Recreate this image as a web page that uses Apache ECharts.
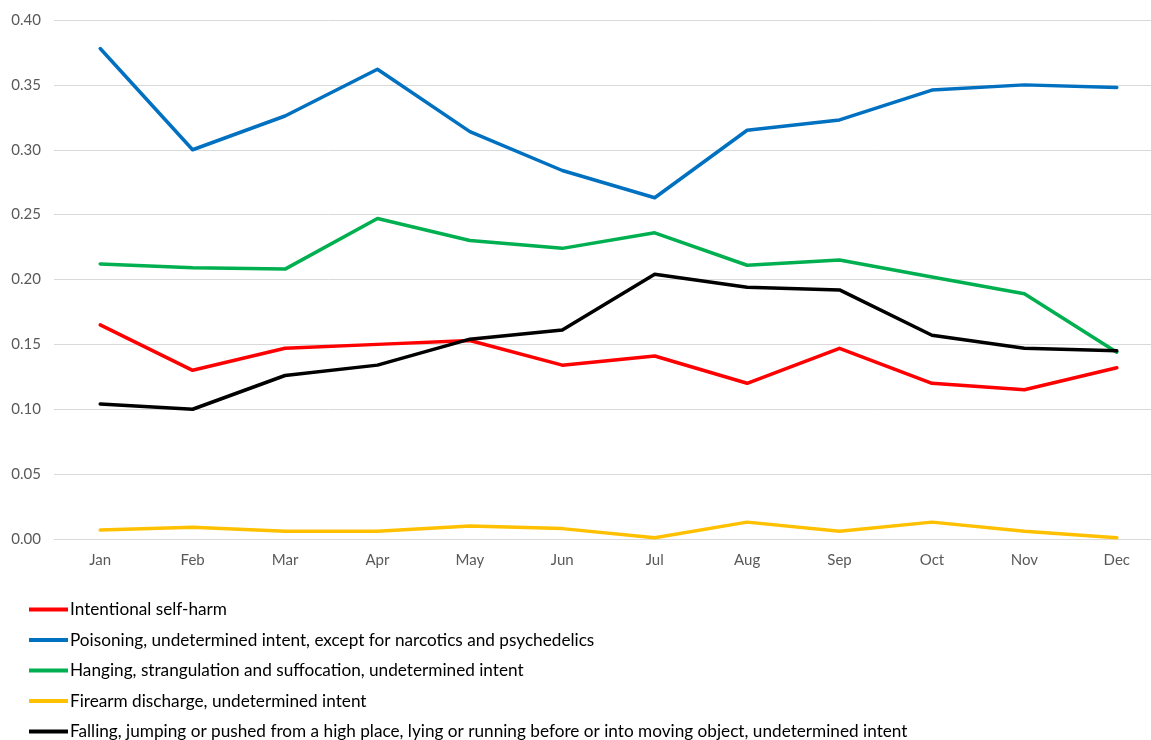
<!DOCTYPE html>
<html><head><meta charset="utf-8">
<script src="https://cdn.jsdelivr.net/npm/echarts@6/dist/echarts.min.js"></script>
<style>html,body{margin:0;padding:0;background:#fff}#c{width:1151px;height:740px}</style>
</head><body><div id="c"></div>
<script>
const months = ['Jan','Feb','Mar','Apr','May','Jun','Jul','Aug','Sep','Oct','Nov','Dec'];
const seriesNames = [
  'Intentional self-harm',
  'Poisoning, undetermined intent, except for narcotics and psychedelics',
  'Hanging, strangulation and suffocation, undetermined intent',
  'Firearm discharge, undetermined intent',
  'Falling, jumping or pushed from a high place, lying or running before or into moving object, undetermined intent'
];
const selfHarm   = [0.165, 0.130, 0.147, 0.150, 0.153, 0.134, 0.141, 0.120, 0.147, 0.120, 0.115, 0.132];
const poisoning  = [0.378, 0.300, 0.326, 0.362, 0.314, 0.284, 0.263, 0.315, 0.323, 0.346, 0.350, 0.348];
const hanging    = [0.212, 0.209, 0.208, 0.247, 0.230, 0.224, 0.236, 0.211, 0.215, 0.202, 0.189, 0.144];
const firearm    = [0.007, 0.009, 0.006, 0.006, 0.010, 0.008, 0.001, 0.013, 0.006, 0.013, 0.006, 0.001];
const falling    = [0.104, 0.100, 0.126, 0.134, 0.154, 0.161, 0.204, 0.194, 0.192, 0.157, 0.147, 0.145];
const colors = ['#FF0000', '#0070C0', '#00B050', '#FFC000', '#000000'];
const values = [selfHarm, poisoning, hanging, firearm, falling];

const chart = echarts.init(document.getElementById('c'), null, {renderer: 'canvas'});
chart.setOption({
  animation: false,
  color: colors,
  textStyle: {fontFamily: 'Lato'},
  grid: {left: 54, width: 1109, top: 20, bottom: 201, containLabel: false, outerBoundsMode: 'none'},
  legend: {
    orient: 'vertical', left: 29, top: 601, height: 160, padding: 0,
    itemWidth: 39, itemHeight: 4, itemGap: 13.5, icon: 'rect',
    textStyle: {fontFamily: 'Lato', fontSize: 17.2, color: '#000', padding: [0,0,0,-3]},
    data: seriesNames
  },
  xAxis: {
    type: 'category', data: months, boundaryGap: true,
    axisLine: {show: true, lineStyle: {color: '#D9D9D9', width: 1}},
    axisTick: {show: false},
    axisLabel: {color: '#595959', fontSize: 15, margin: 14, fontFamily: 'Lato'}
  },
  yAxis: {
    type: 'value', min: 0, max: 0.4, interval: 0.05,
    axisLine: {show: false}, axisTick: {show: false},
    splitLine: {lineStyle: {color: '#D9D9D9', width: 1}},
    axisLabel: {color: '#595959', fontSize: 15, margin: 13, fontFamily: 'Lato',
      formatter: v => v.toFixed(2)}
  },
  series: seriesNames.map((n, i) => ({
    name: n, type: 'line', data: values[i], showSymbol: false, symbol: 'none',
    lineStyle: {width: 3.5, color: colors[i], cap: 'round', join: 'round'},
    itemStyle: {color: colors[i]}
  }))
});
</script></body></html>
